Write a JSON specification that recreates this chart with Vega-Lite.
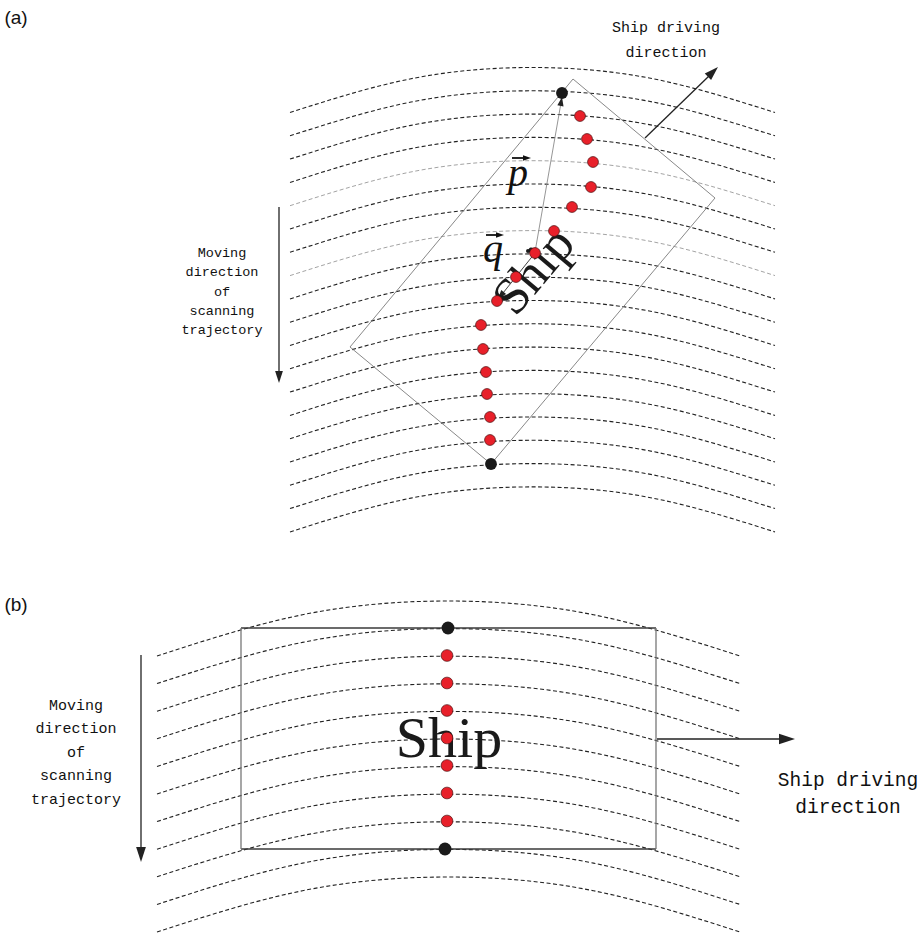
{
 "$schema": "https://vega.github.io/schema/vega-lite/v6.json",
 "width": 923, "height": 935, "padding": 0,
 "autosize": {"type": "fit", "contains": "padding"},
 "config": {"view": {"stroke": null}},
 "datasets": {
  "arcs": [
   {"arc":"a0","x":290,"y":112.5},{"arc":"a0","x":411,"y":78.75},{"arc":"a0","x":532,"y":67.5},{"arc":"a0","x":653,"y":78.75},{"arc":"a0","x":775,"y":112.5},
   {"arc":"a1","x":290,"y":135.8},{"arc":"a1","x":411,"y":102.05},{"arc":"a1","x":532,"y":90.8},{"arc":"a1","x":653,"y":102.05},{"arc":"a1","x":775,"y":135.8},
   {"arc":"a2","x":290,"y":159.1},{"arc":"a2","x":411,"y":125.35},{"arc":"a2","x":532,"y":114.1},{"arc":"a2","x":653,"y":125.35},{"arc":"a2","x":775,"y":159.1},
   {"arc":"a3","x":290,"y":182.4},{"arc":"a3","x":411,"y":148.65},{"arc":"a3","x":532,"y":137.4},{"arc":"a3","x":653,"y":148.65},{"arc":"a3","x":775,"y":182.4},
   {"arc":"a4","x":290,"y":205.7},{"arc":"a4","x":411,"y":171.95},{"arc":"a4","x":532,"y":160.7},{"arc":"a4","x":653,"y":171.95},{"arc":"a4","x":775,"y":205.7},
   {"arc":"a5","x":290,"y":229},{"arc":"a5","x":411,"y":195.25},{"arc":"a5","x":532,"y":184},{"arc":"a5","x":653,"y":195.25},{"arc":"a5","x":775,"y":229},
   {"arc":"a6","x":290,"y":252.3},{"arc":"a6","x":411,"y":218.55},{"arc":"a6","x":532,"y":207.3},{"arc":"a6","x":653,"y":218.55},{"arc":"a6","x":775,"y":252.3},
   {"arc":"a7","x":290,"y":275.6},{"arc":"a7","x":411,"y":241.85},{"arc":"a7","x":532,"y":230.6},{"arc":"a7","x":653,"y":241.85},{"arc":"a7","x":775,"y":275.6},
   {"arc":"a8","x":290,"y":298.9},{"arc":"a8","x":411,"y":265.15},{"arc":"a8","x":532,"y":253.9},{"arc":"a8","x":653,"y":265.15},{"arc":"a8","x":775,"y":298.9},
   {"arc":"a9","x":290,"y":322.2},{"arc":"a9","x":411,"y":288.45},{"arc":"a9","x":532,"y":277.2},{"arc":"a9","x":653,"y":288.45},{"arc":"a9","x":775,"y":322.2},
   {"arc":"a10","x":290,"y":345.5},{"arc":"a10","x":411,"y":311.75},{"arc":"a10","x":532,"y":300.5},{"arc":"a10","x":653,"y":311.75},{"arc":"a10","x":775,"y":345.5},
   {"arc":"a11","x":290,"y":368.8},{"arc":"a11","x":411,"y":335.05},{"arc":"a11","x":532,"y":323.8},{"arc":"a11","x":653,"y":335.05},{"arc":"a11","x":775,"y":368.8},
   {"arc":"a12","x":290,"y":392.1},{"arc":"a12","x":411,"y":358.35},{"arc":"a12","x":532,"y":347.1},{"arc":"a12","x":653,"y":358.35},{"arc":"a12","x":775,"y":392.1},
   {"arc":"a13","x":290,"y":415.4},{"arc":"a13","x":411,"y":381.65},{"arc":"a13","x":532,"y":370.4},{"arc":"a13","x":653,"y":381.65},{"arc":"a13","x":775,"y":415.4},
   {"arc":"a14","x":290,"y":438.7},{"arc":"a14","x":411,"y":404.95},{"arc":"a14","x":532,"y":393.7},{"arc":"a14","x":653,"y":404.95},{"arc":"a14","x":775,"y":438.7},
   {"arc":"a15","x":290,"y":462},{"arc":"a15","x":411,"y":428.25},{"arc":"a15","x":532,"y":417},{"arc":"a15","x":653,"y":428.25},{"arc":"a15","x":775,"y":462},
   {"arc":"a16","x":290,"y":485.3},{"arc":"a16","x":411,"y":451.55},{"arc":"a16","x":532,"y":440.3},{"arc":"a16","x":653,"y":451.55},{"arc":"a16","x":775,"y":485.3},
   {"arc":"a17","x":290,"y":508.6},{"arc":"a17","x":411,"y":474.85},{"arc":"a17","x":532,"y":463.6},{"arc":"a17","x":653,"y":474.85},{"arc":"a17","x":775,"y":508.6},
   {"arc":"a18","x":290,"y":531.9},{"arc":"a18","x":411,"y":498.15},{"arc":"a18","x":532,"y":486.9},{"arc":"a18","x":653,"y":498.15},{"arc":"a18","x":775,"y":531.9},
   {"arc":"b0","x":157,"y":656},{"arc":"b0","x":302.5,"y":614.75},{"arc":"b0","x":448,"y":601},{"arc":"b0","x":593.5,"y":614.75},{"arc":"b0","x":740,"y":656},
   {"arc":"b1","x":157,"y":683.6},{"arc":"b1","x":302.5,"y":642.35},{"arc":"b1","x":448,"y":628.6},{"arc":"b1","x":593.5,"y":642.35},{"arc":"b1","x":740,"y":683.6},
   {"arc":"b2","x":157,"y":711.2},{"arc":"b2","x":302.5,"y":669.95},{"arc":"b2","x":448,"y":656.2},{"arc":"b2","x":593.5,"y":669.95},{"arc":"b2","x":740,"y":711.2},
   {"arc":"b3","x":157,"y":738.8},{"arc":"b3","x":302.5,"y":697.55},{"arc":"b3","x":448,"y":683.8},{"arc":"b3","x":593.5,"y":697.55},{"arc":"b3","x":740,"y":738.8},
   {"arc":"b4","x":157,"y":766.4},{"arc":"b4","x":302.5,"y":725.15},{"arc":"b4","x":448,"y":711.4},{"arc":"b4","x":593.5,"y":725.15},{"arc":"b4","x":740,"y":766.4},
   {"arc":"b5","x":157,"y":794},{"arc":"b5","x":302.5,"y":752.75},{"arc":"b5","x":448,"y":739},{"arc":"b5","x":593.5,"y":752.75},{"arc":"b5","x":740,"y":794},
   {"arc":"b6","x":157,"y":821.6},{"arc":"b6","x":302.5,"y":780.35},{"arc":"b6","x":448,"y":766.6},{"arc":"b6","x":593.5,"y":780.35},{"arc":"b6","x":740,"y":821.6},
   {"arc":"b7","x":157,"y":849.2},{"arc":"b7","x":302.5,"y":807.95},{"arc":"b7","x":448,"y":794.2},{"arc":"b7","x":593.5,"y":807.95},{"arc":"b7","x":740,"y":849.2},
   {"arc":"b8","x":157,"y":876.8},{"arc":"b8","x":302.5,"y":835.55},{"arc":"b8","x":448,"y":821.8},{"arc":"b8","x":593.5,"y":835.55},{"arc":"b8","x":740,"y":876.8},
   {"arc":"b9","x":157,"y":904.4},{"arc":"b9","x":302.5,"y":863.15},{"arc":"b9","x":448,"y":849.4},{"arc":"b9","x":593.5,"y":863.15},{"arc":"b9","x":740,"y":904.4},
   {"arc":"b10","x":157,"y":932},{"arc":"b10","x":302.5,"y":890.75},{"arc":"b10","x":448,"y":877},{"arc":"b10","x":593.5,"y":890.75},{"arc":"b10","x":740,"y":932}
  ],
  "segments": [
   {"part":"frameA","x":573,"y":79,"x2":715,"y2":198},
   {"part":"frameA","x":715,"y":198,"x2":491,"y2":464},
   {"part":"frameA","x":491,"y":464,"x2":350,"y2":347},
   {"part":"frameA","x":350,"y":347,"x2":573,"y2":79},
   {"part":"frameBh","x":241,"y":628,"x2":656,"y2":628},
   {"part":"frameBh","x":241,"y":849,"x2":656,"y2":849},
   {"part":"frameBv","x":241,"y":628,"x2":241,"y2":849},
   {"part":"frameBv","x":656,"y":628,"x2":656,"y2":849},
   {"part":"vecP","x":535,"y":252,"x2":560.8,"y2":104},
   {"part":"vecQ","x":535,"y":253,"x2":503,"y2":293},
   {"part":"arrow","x":279,"y":207,"x2":279,"y2":373},
   {"part":"arrow","x":645,"y":138,"x2":709,"y2":76},
   {"part":"arrow","x":141,"y":655,"x2":141,"y2":849},
   {"part":"arrow","x":657,"y":739,"x2":781,"y2":739},
   {"part":"overArrow","x":512,"y":158,"x2":525,"y2":158},
   {"part":"overArrow","x":486,"y":235,"x2":499,"y2":235}
  ],
  "heads": [
   {"id":"downA","x":279,"y":383},
   {"id":"shipA","x":718,"y":67},
   {"id":"downB","x":141,"y":862},
   {"id":"rightB","x":795,"y":739},
   {"id":"overP","x":531,"y":158},
   {"id":"overQ","x":504,"y":235},
   {"id":"vecP","x":562,"y":97},
   {"id":"vecQ","x":498,"y":299}
  ],
  "dots": [
   {"panel":"a","role":"sample","x":580,"y":116},
   {"panel":"a","role":"sample","x":587,"y":139},
   {"panel":"a","role":"sample","x":593,"y":162},
   {"panel":"a","role":"sample","x":591,"y":187},
   {"panel":"a","role":"sample","x":572,"y":207},
   {"panel":"a","role":"sample","x":554,"y":231},
   {"panel":"a","role":"sample","x":535,"y":253},
   {"panel":"a","role":"sample","x":516,"y":277},
   {"panel":"a","role":"sample","x":497,"y":301},
   {"panel":"a","role":"sample","x":481,"y":325},
   {"panel":"a","role":"sample","x":483,"y":349},
   {"panel":"a","role":"sample","x":486,"y":372},
   {"panel":"a","role":"sample","x":487,"y":394},
   {"panel":"a","role":"sample","x":490,"y":417},
   {"panel":"a","role":"sample","x":490,"y":440},
   {"panel":"a","role":"end","x":562,"y":93},
   {"panel":"a","role":"end","x":491,"y":464},
   {"panel":"a","role":"origin","x":528,"y":251},
   {"panel":"b","role":"sample","x":447,"y":655.5},
   {"panel":"b","role":"sample","x":447,"y":683},
   {"panel":"b","role":"sample","x":447,"y":710.5},
   {"panel":"b","role":"sample","x":447,"y":738},
   {"panel":"b","role":"sample","x":447,"y":765.5},
   {"panel":"b","role":"sample","x":447,"y":793},
   {"panel":"b","role":"sample","x":447,"y":821},
   {"panel":"b","role":"end","x":448,"y":628},
   {"panel":"b","role":"end","x":445,"y":849}
  ],
  "labels": [
   {"group":"panel","text":"(a)","x":16,"y":18},
   {"group":"panel","text":"(b)","x":16,"y":605},
   {"group":"dirA","text":"Ship driving","x":666,"y":27},
   {"group":"dirA","text":"direction","x":666,"y":52},
   {"group":"moveA","text":"Moving","x":222,"y":253},
   {"group":"moveA","text":"direction","x":222,"y":272},
   {"group":"moveA","text":"of","x":222,"y":292},
   {"group":"moveA","text":"scanning","x":222,"y":311},
   {"group":"moveA","text":"trajectory","x":222,"y":330},
   {"group":"dirB","text":"Ship driving","x":848,"y":780},
   {"group":"dirB","text":"direction","x":848,"y":807},
   {"group":"moveB","text":"Moving","x":76,"y":705},
   {"group":"moveB","text":"direction","x":76,"y":728},
   {"group":"moveB","text":"of","x":76,"y":752},
   {"group":"moveB","text":"scanning","x":76,"y":775},
   {"group":"moveB","text":"trajectory","x":76,"y":799},
   {"group":"shipB","text":"Ship","x":449,"y":740},
   {"group":"shipA","text":"Ship","x":534,"y":271},
   {"group":"vec","text":"p","x":518,"y":186},
   {"group":"vec","text":"q","x":493,"y":262}
  ]
 },
 "encoding": {
  "x": {"field": "x", "type": "quantitative", "scale": {"domain": [0, 923], "nice": false, "zero": false}, "axis": null},
  "y": {"field": "y", "type": "quantitative", "scale": {"domain": [0, 935], "nice": false, "zero": false, "reverse": true}, "axis": null}
 },
 "layer": [
  {"data": {"name": "arcs"}, "transform": [{"filter": "datum.arc != 'a4' && datum.arc != 'a7'"}],
   "mark": {"type": "line", "interpolate": "natural", "color": "#222222", "strokeWidth": 1.1, "strokeDash": [4, 2.5]},
   "encoding": {"detail": {"field": "arc"}}},
  {"data": {"name": "arcs"}, "transform": [{"filter": "datum.arc == 'a4' || datum.arc == 'a7'"}],
   "mark": {"type": "line", "interpolate": "natural", "color": "#999999", "strokeWidth": 0.9, "strokeDash": [4, 2.5]},
   "encoding": {"detail": {"field": "arc"}}},
  {"data": {"name": "segments"}, "transform": [{"filter": "datum.part == 'frameA'"}],
   "mark": {"type": "rule", "color": "#7a7a7a", "strokeWidth": 0.9},
   "encoding": {"x2": {"field": "x2"}, "y2": {"field": "y2"}}},
  {"data": {"name": "segments"}, "transform": [{"filter": "datum.part == 'frameBh'"}],
   "mark": {"type": "rule", "color": "#3a3a3a", "strokeWidth": 1.3},
   "encoding": {"x2": {"field": "x2"}, "y2": {"field": "y2"}}},
  {"data": {"name": "segments"}, "transform": [{"filter": "datum.part == 'frameBv'"}],
   "mark": {"type": "rule", "color": "#777777", "strokeWidth": 1.3},
   "encoding": {"x2": {"field": "x2"}, "y2": {"field": "y2"}}},
  {"data": {"name": "segments"}, "transform": [{"filter": "datum.part == 'vecP'"}],
   "mark": {"type": "rule", "color": "#8a8a8a", "strokeWidth": 0.9},
   "encoding": {"x2": {"field": "x2"}, "y2": {"field": "y2"}}},
  {"data": {"name": "segments"}, "transform": [{"filter": "datum.part == 'vecQ'"}],
   "mark": {"type": "rule", "color": "#444444", "strokeWidth": 1},
   "encoding": {"x2": {"field": "x2"}, "y2": {"field": "y2"}}},
  {"data": {"name": "segments"}, "transform": [{"filter": "datum.part == 'arrow'"}],
   "mark": {"type": "rule", "color": "#222222", "strokeWidth": 1.3},
   "encoding": {"x2": {"field": "x2"}, "y2": {"field": "y2"}}},
  {"data": {"name": "segments"}, "transform": [{"filter": "datum.part == 'overArrow'"}],
   "mark": {"type": "rule", "color": "#111111", "strokeWidth": 1.8},
   "encoding": {"x2": {"field": "x2"}, "y2": {"field": "y2"}}},
  {"data": {"name": "heads"}, "transform": [{"filter": "datum.id == 'downA'"}],
   "mark": {"type": "point", "shape": "M0,0L-2,-0.65L-2,0.65Z", "filled": true, "color": "#222222", "opacity": 1, "size": 144, "angle": 90}},
  {"data": {"name": "heads"}, "transform": [{"filter": "datum.id == 'shipA'"}],
   "mark": {"type": "point", "shape": "M0,0L-2,-0.65L-2,0.65Z", "filled": true, "color": "#222222", "opacity": 1, "size": 196, "angle": -44}},
  {"data": {"name": "heads"}, "transform": [{"filter": "datum.id == 'downB'"}],
   "mark": {"type": "point", "shape": "M0,0L-2,-0.65L-2,0.65Z", "filled": true, "color": "#222222", "opacity": 1, "size": 225, "angle": 90}},
  {"data": {"name": "heads"}, "transform": [{"filter": "datum.id == 'rightB'"}],
   "mark": {"type": "point", "shape": "M0,0L-2,-0.65L-2,0.65Z", "filled": true, "color": "#222222", "opacity": 1, "size": 256, "angle": 0}},
  {"data": {"name": "heads"}, "transform": [{"filter": "datum.id == 'overP' || datum.id == 'overQ'"}],
   "mark": {"type": "point", "shape": "M0,0L-2,-0.7L-2,0.7Z", "filled": true, "color": "#111111", "opacity": 1, "size": 64, "angle": 0}},
  {"data": {"name": "heads"}, "transform": [{"filter": "datum.id == 'vecP'"}],
   "mark": {"type": "point", "shape": "M0,0L-2,-0.7L-2,0.7Z", "filled": true, "color": "#222222", "opacity": 1, "size": 81, "angle": -80}},
  {"data": {"name": "heads"}, "transform": [{"filter": "datum.id == 'vecQ'"}],
   "mark": {"type": "point", "shape": "M0,0L-2,-0.7L-2,0.7Z", "filled": true, "color": "#222222", "opacity": 1, "size": 81, "angle": 129}},
  {"data": {"name": "labels"}, "transform": [{"filter": "datum.group == 'panel'"}],
   "mark": {"type": "text", "font": "Liberation Sans", "fontSize": 19, "align": "center", "baseline": "middle", "color": "#111111"},
   "encoding": {"text": {"field": "text"}}},
  {"data": {"name": "labels"}, "transform": [{"filter": "datum.group == 'dirA'"}],
   "mark": {"type": "text", "font": "Liberation Mono", "fontSize": 15, "align": "center", "baseline": "middle", "color": "#111111"},
   "encoding": {"text": {"field": "text"}}},
  {"data": {"name": "labels"}, "transform": [{"filter": "datum.group == 'moveA'"}],
   "mark": {"type": "text", "font": "Liberation Mono", "fontSize": 13.5, "align": "center", "baseline": "middle", "color": "#111111"},
   "encoding": {"text": {"field": "text"}}},
  {"data": {"name": "labels"}, "transform": [{"filter": "datum.group == 'dirB'"}],
   "mark": {"type": "text", "font": "Liberation Mono", "fontSize": 19.5, "align": "center", "baseline": "middle", "color": "#111111"},
   "encoding": {"text": {"field": "text"}}},
  {"data": {"name": "labels"}, "transform": [{"filter": "datum.group == 'moveB'"}],
   "mark": {"type": "text", "font": "Liberation Mono", "fontSize": 15, "align": "center", "baseline": "middle", "color": "#111111"},
   "encoding": {"text": {"field": "text"}}},
  {"data": {"name": "labels"}, "transform": [{"filter": "datum.group == 'shipB'"}],
   "mark": {"type": "text", "font": "Liberation Serif", "fontSize": 58, "align": "center", "baseline": "middle", "color": "#1a1a1a"},
   "encoding": {"text": {"field": "text"}}},
  {"data": {"name": "labels"}, "transform": [{"filter": "datum.group == 'shipA'"}],
   "mark": {"type": "text", "font": "Liberation Serif", "fontSize": 52, "align": "center", "baseline": "middle", "angle": -50, "color": "#1a1a1a"},
   "encoding": {"text": {"field": "text"}}},
  {"data": {"name": "labels"}, "transform": [{"filter": "datum.group == 'vec'"}],
   "mark": {"type": "text", "font": "Liberation Serif", "fontStyle": "italic", "fontSize": 40, "align": "center", "baseline": "alphabetic", "color": "#111111"},
   "encoding": {"text": {"field": "text"}}},
  {"data": {"name": "dots"}, "transform": [{"filter": "datum.panel == 'a' && datum.role == 'sample'"}],
   "mark": {"type": "point", "shape": "circle", "filled": true, "opacity": 1, "color": "#e8202a", "stroke": "#4a1010", "strokeWidth": 0.7, "size": 118}},
  {"data": {"name": "dots"}, "transform": [{"filter": "datum.panel == 'a' && datum.role == 'end'"}],
   "mark": {"type": "point", "shape": "circle", "filled": true, "opacity": 1, "color": "#1a1a1a", "size": 140}},
  {"data": {"name": "dots"}, "transform": [{"filter": "datum.role == 'origin'"}],
   "mark": {"type": "point", "shape": "circle", "filled": true, "opacity": 1, "color": "#1a1a1a", "size": 16}},
  {"data": {"name": "dots"}, "transform": [{"filter": "datum.panel == 'b' && datum.role == 'sample'"}],
   "mark": {"type": "point", "shape": "circle", "filled": true, "opacity": 1, "color": "#e8202a", "stroke": "#4a1010", "strokeWidth": 0.7, "size": 138}},
  {"data": {"name": "dots"}, "transform": [{"filter": "datum.panel == 'b' && datum.role == 'end'"}],
   "mark": {"type": "point", "shape": "circle", "filled": true, "opacity": 1, "color": "#1a1a1a", "size": 165}}
 ]
}
